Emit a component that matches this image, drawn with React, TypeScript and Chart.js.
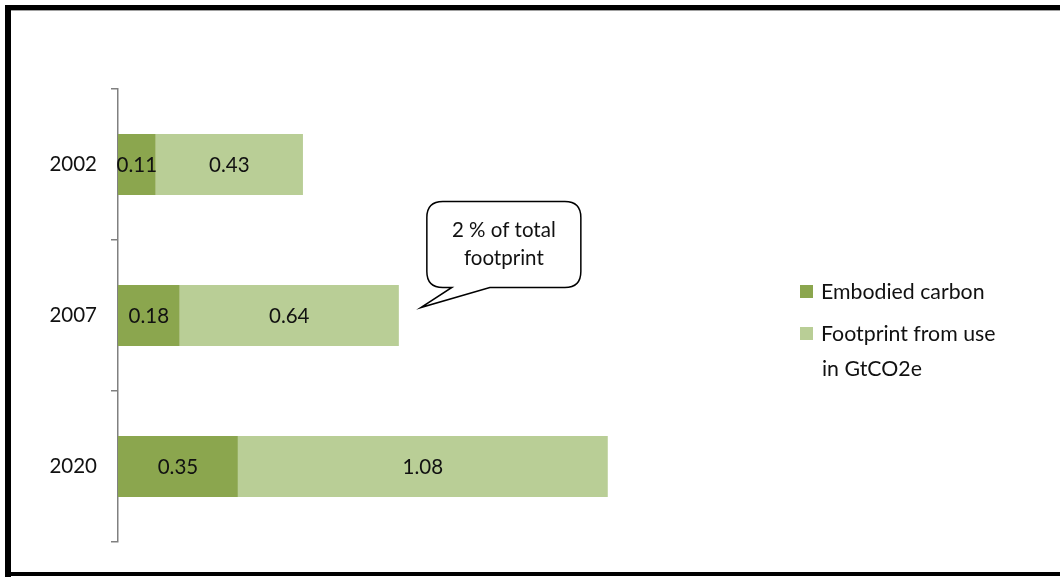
import { useEffect, useRef } from 'react';
import { Chart, registerables } from 'chart.js';

Chart.register(...registerables);

const years = ['2002', '2007', '2020'];
const embodiedCarbon = [0.11, 0.18, 0.35];
const footprintFromUse = [0.43, 0.64, 1.08];
const seriesNames = ['Embodied carbon', 'Footprint from use in GtCO2e'];
const legendLines = [['Embodied carbon'], ['Footprint from use', 'in GtCO2e']];
const calloutLines = ['2 % of total', 'footprint'];
const calloutCategory = 1;
const xMin = 0;
const xMax = 2;

const DARK = '#8ba64e';
const LIGHT = '#b9ce96';
const AXIS = '#808080';
const FONT = 'Lato, "DejaVu Sans", sans-serif';

const framePlugin = {
  id: 'frame',
  beforeDraw(chart: any) {
    const { ctx, width, height } = chart;
    ctx.save();
    ctx.fillStyle = '#ffffff';
    ctx.fillRect(0, 0, width, height);
    ctx.fillStyle = '#000000';
    ctx.fillRect(5, 5, width, 5);
    ctx.fillRect(5, 5, 6, height - 6);
    ctx.fillRect(5, height - 6, width, 4);
    ctx.fillStyle = '#a0a0a0';
    ctx.fillRect(11, 10, width, 1);
    ctx.restore();
  },
};

const valueLabelPlugin = {
  id: 'valueLabels',
  afterDatasetsDraw(chart: any) {
    const { ctx } = chart;
    ctx.save();
    ctx.font = `20.5px ${FONT}`;
    ctx.fillStyle = '#111111';
    ctx.textAlign = 'center';
    ctx.textBaseline = 'middle';
    chart.data.datasets.forEach((ds: any, di: number) => {
      const meta = chart.getDatasetMeta(di);
      meta.data.forEach((bar: any, i: number) => {
        const v = ds.data[i];
        const cx = (bar.x + bar.base) / 2;
        ctx.fillText(v.toFixed(2), cx, bar.y + 1);
      });
    });
    ctx.restore();
  },
};

const legendPlugin = {
  id: 'customLegend',
  afterDraw(chart: any) {
    const { ctx } = chart;
    const x0 = chart.chartArea.right - 3;
    const ys = [292, 334];
    ctx.save();
    ctx.font = `21.3px ${FONT}`;
    ctx.textAlign = 'left';
    ctx.textBaseline = 'middle';
    chart.data.datasets.forEach((ds: any, di: number) => {
      const y = ys[di];
      ctx.fillStyle = ds.backgroundColor;
      ctx.fillRect(x0, y - 7, 13, 13);
      ctx.fillStyle = '#111111';
      legendLines[di].forEach((line, li) => {
        ctx.fillText(line, x0 + 21 + (li > 0 ? 1 : 0), y + li * 35);
      });
    });
    ctx.restore();
  },
};

const calloutPlugin = {
  id: 'callout',
  afterDraw(chart: any) {
    const { ctx } = chart;
    const xs = chart.scales.x;
    const ys = chart.scales.y;
    const total = embodiedCarbon[calloutCategory] + footprintFromUse[calloutCategory];
    const tipX = xs.getPixelForValue(total) + 22;
    const tipY = ys.getPixelForValue(calloutCategory) - 8;
    const l = tipX + 6;
    const r = tipX + 160;
    const t = tipY - 106;
    const b = tipY - 20;
    const rad = 16;
    const p1 = tipX + 31;
    const p2 = tipX + 69;
    ctx.save();
    ctx.beginPath();
    ctx.moveTo(l + rad, t);
    ctx.lineTo(r - rad, t);
    ctx.quadraticCurveTo(r, t, r, t + rad);
    ctx.lineTo(r, b - rad);
    ctx.quadraticCurveTo(r, b, r - rad, b);
    ctx.lineTo(p2, b);
    ctx.lineTo(tipX, tipY);
    ctx.lineTo(p1, b);
    ctx.lineTo(l + rad, b);
    ctx.quadraticCurveTo(l, b, l, b - rad);
    ctx.lineTo(l, t + rad);
    ctx.quadraticCurveTo(l, t, l + rad, t);
    ctx.closePath();
    ctx.fillStyle = '#ffffff';
    ctx.fill();
    ctx.strokeStyle = '#000000';
    ctx.lineWidth = 1.5;
    ctx.stroke();
    ctx.font = `20.5px ${FONT}`;
    ctx.fillStyle = '#111111';
    ctx.textAlign = 'center';
    ctx.textBaseline = 'middle';
    const cx = (l + r) / 2;
    calloutLines.forEach((line, i) => {
      ctx.fillText(line, cx, t + 29 + i * 28);
    });
    ctx.restore();
  },
};

export default function App() {
  const ref = useRef<HTMLCanvasElement | null>(null);

  useEffect(() => {
    document.body.style.margin = '0';
    if (!ref.current) return;
    const chart = new Chart(ref.current, {
      type: 'bar',
      data: {
        labels: years,
        datasets: [
          {
            label: seriesNames[0],
            data: embodiedCarbon,
            backgroundColor: DARK,
            borderWidth: 0,
            barPercentage: 0.405,
            categoryPercentage: 1,
          },
          {
            label: seriesNames[1],
            data: footprintFromUse,
            backgroundColor: LIGHT,
            borderWidth: 0,
            barPercentage: 0.405,
            categoryPercentage: 1,
          },
        ],
      },
      options: {
        indexAxis: 'y',
        responsive: false,
        animation: false,
        devicePixelRatio: 1,
        layout: { padding: { left: 0, top: 89, bottom: 36, right: 257 } },
        plugins: {
          legend: { display: false },
          tooltip: { enabled: false },
        },
        scales: {
          x: {
            stacked: true,
            display: false,
            min: xMin,
            max: xMax,
          },
          y: {
            stacked: true,
            offset: true,
            afterFit(scale: any) {
              scale.width = 118;
            },
            border: { display: true, color: AXIS, width: 1.5 },
            grid: {
              display: true,
              drawOnChartArea: false,
              drawTicks: true,
              tickLength: 7,
              color: AXIS,
              lineWidth: 1.5,
              offset: true,
            },
            ticks: {
              padding: 14,
              color: '#111111',
              font: { family: FONT, size: 20.5 },
            },
          },
        },
      },
      plugins: [framePlugin, valueLabelPlugin, legendPlugin, calloutPlugin],
    });
    return () => chart.destroy();
  }, []);

  return (
    <div style={{ position: 'absolute', left: 0, top: 0, width: 1060, height: 578 }}>
      <canvas ref={ref} width={1060} height={578} style={{ display: 'block' }} />
    </div>
  );
}
